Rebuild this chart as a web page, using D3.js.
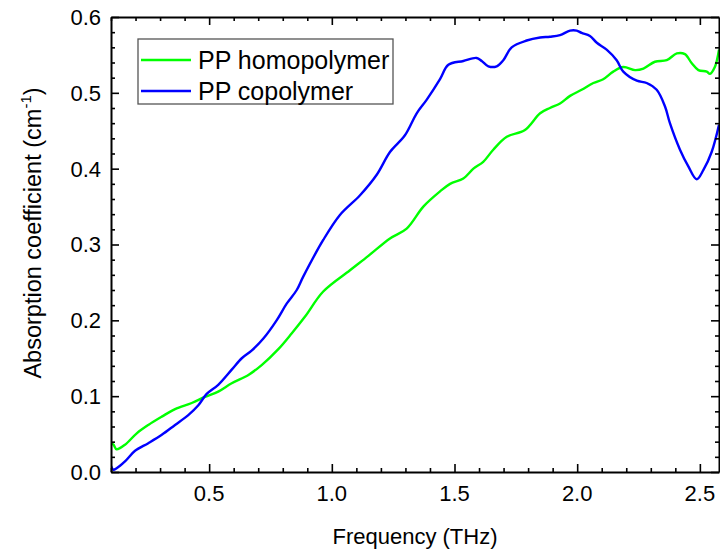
<!DOCTYPE html>
<html lang="en">
<head>
<meta charset="utf-8">
<title>PP absorption</title>
<script src="https://d3js.org/d3.v7.min.js"></script>
<style>
  body { margin: 0; background: #fff; }
  text { font-family: "Liberation Sans", Arial, sans-serif; fill: #000; }
</style>
</head>
<body>
<script>

var width = 720,
    height = 551;

// PP homopolymer (green)
var homoFreq = [0.100, 0.110, 0.123, 0.157, 0.205, 0.252, 0.307, 0.361, 0.429, 0.483, 0.537, 0.592,
  0.660, 0.714, 0.782, 0.837, 0.891, 0.965, 1.074, 1.149, 1.237, 1.305, 1.373, 1.441, 1.482, 1.536,
  1.577, 1.617, 1.658, 1.713, 1.787, 1.849, 1.889, 1.930, 1.971, 2.018, 2.066, 2.106, 2.147, 2.188,
  2.236, 2.270, 2.317, 2.365, 2.406, 2.439, 2.467, 2.494, 2.528, 2.541, 2.561, 2.578];
var homoVal = [0.038, 0.036, 0.030, 0.036, 0.051, 0.062, 0.073, 0.083, 0.091, 0.099, 0.106, 0.117,
  0.128, 0.141, 0.162, 0.183, 0.205, 0.238, 0.266, 0.285, 0.308, 0.321, 0.350, 0.370, 0.380, 0.387,
  0.400, 0.409, 0.425, 0.442, 0.451, 0.473, 0.480, 0.486, 0.496, 0.504, 0.513, 0.518, 0.528, 0.534,
  0.530, 0.532, 0.541, 0.543, 0.552, 0.551, 0.539, 0.530, 0.528, 0.525, 0.534, 0.557];

// PP copolymer (blue)
var coFreq = [0.100, 0.110, 0.123, 0.157, 0.198, 0.252, 0.307, 0.361, 0.415, 0.456, 0.490, 0.537,
  0.592, 0.633, 0.673, 0.721, 0.775, 0.816, 0.857, 0.884, 0.965, 1.033, 1.115, 1.183, 1.237, 1.298,
  1.346, 1.387, 1.441, 1.475, 1.536, 1.590, 1.611, 1.638, 1.672, 1.699, 1.733, 1.794, 1.849, 1.889,
  1.930, 1.971, 1.998, 2.018, 2.052, 2.080, 2.120, 2.161, 2.188, 2.243, 2.283, 2.324, 2.358, 2.378,
  2.419, 2.453, 2.487, 2.514, 2.548, 2.578];
var coVal = [0.008, 0.003, 0.005, 0.014, 0.028, 0.038, 0.049, 0.062, 0.075, 0.088, 0.103, 0.115,
  0.135, 0.150, 0.160, 0.176, 0.200, 0.222, 0.240, 0.258, 0.306, 0.339, 0.365, 0.392, 0.422, 0.444,
  0.473, 0.491, 0.518, 0.537, 0.542, 0.546, 0.542, 0.535, 0.535, 0.543, 0.560, 0.569, 0.573, 0.574,
  0.576, 0.582, 0.582, 0.579, 0.575, 0.566, 0.557, 0.543, 0.528, 0.516, 0.513, 0.504, 0.482, 0.460,
  0.425, 0.403, 0.386, 0.398, 0.422, 0.458];

var xTicks = [0.5, 1.0, 1.5, 2.0, 2.5];
var yTicks = [0.0, 0.1, 0.2, 0.3, 0.4, 0.5, 0.6];
var seriesNames = ["PP homopolymer", "PP copolymer"];
var seriesColors = ["#00ff00", "#0000ff"];

var pLeft = 111, pRight = 719, pTop = 17, pBottom = 472;

var x = d3.scaleLinear().domain([0.1, 2.578]).range([pLeft, pRight]);
var y = d3.scaleLinear().domain([0, 0.6]).range([pBottom, pTop]);

var svg = d3.select("body").append("svg")
    .attr("width", width)
    .attr("height", height);

svg.append("clipPath").attr("id", "plotclip")
  .append("rect")
    .attr("x", pLeft).attr("y", pTop)
    .attr("width", pRight - pLeft).attr("height", pBottom - pTop);

// curves
var line = d3.line()
    .curve(d3.curveCatmullRom.alpha(0.5))
    .x(function(d) { return x(d[0]); })
    .y(function(d) { return y(d[1]); });

var series = [
  d3.zip(homoFreq, homoVal),
  d3.zip(coFreq, coVal)
];

svg.append("g")
    .attr("clip-path", "url(#plotclip)")
  .selectAll("path")
  .data(series)
  .enter().append("path")
    .attr("d", line)
    .attr("fill", "none")
    .attr("stroke", function(d, i) { return seriesColors[i]; })
    .attr("stroke-width", 2.4)
    .attr("stroke-linejoin", "round");

// axes: ticks point inward, minor ticks without labels
var xMinor = d3.range(0.1, 2.58, 0.1).map(function(v) { return +v.toFixed(2); });
var yMinor = d3.range(0, 0.601, 0.02).map(function(v) { return +v.toFixed(2); });

function tickLen(isMajor) { return isMajor ? 8 : 4; }

var bottomAxis = d3.axisBottom(x).tickValues(xMinor).tickSizeOuter(0).tickFormat("");
var topAxis = d3.axisTop(x).tickValues(xMinor).tickSizeOuter(0).tickFormat("");
var leftAxis = d3.axisLeft(y).tickValues(yMinor).tickSizeOuter(0).tickFormat("");
var rightAxis = d3.axisRight(y).tickValues(yMinor).tickSizeOuter(0).tickFormat("");

var gb = svg.append("g").attr("transform", "translate(0," + pBottom + ")").call(bottomAxis);
var gt = svg.append("g").attr("transform", "translate(0," + pTop + ")").call(topAxis);
var gl = svg.append("g").attr("transform", "translate(" + pLeft + ",0)").call(leftAxis);
var gr = svg.append("g").attr("transform", "translate(" + pRight + ",0)").call(rightAxis);

function isMajorX(v) { return Math.abs(v * 2 - Math.round(v * 2)) < 1e-6; }
function isMajorY(v) { return Math.abs(v * 10 - Math.round(v * 10)) < 1e-6; }

gb.selectAll(".tick line").attr("y2", function(d) { return -tickLen(isMajorX(d)); });
gt.selectAll(".tick line").attr("y2", function(d) { return tickLen(isMajorX(d)); });
gl.selectAll(".tick line").attr("x2", function(d) { return tickLen(isMajorY(d)); });
gr.selectAll(".tick line").attr("x2", function(d) { return -tickLen(isMajorY(d)); });

[gb, gt, gl, gr].forEach(function(g) {
  g.selectAll("line, path").attr("stroke", "#000").attr("stroke-width", 1.6);
  g.select(".domain").attr("stroke-width", 2);
});

// tick labels
svg.append("g").selectAll("text")
  .data(xTicks)
  .enter().append("text")
    .attr("x", function(d) { return x(d); })
    .attr("y", pBottom + 29)
    .attr("text-anchor", "middle")
    .attr("font-size", 22)
    .text(function(d) { return d3.format(".1f")(d); });

svg.append("g").selectAll("text")
  .data(yTicks)
  .enter().append("text")
    .attr("x", pLeft - 10)
    .attr("y", function(d) { return y(d); })
    .attr("dy", "0.36em")
    .attr("text-anchor", "end")
    .attr("font-size", 22)
    .text(function(d) { return d3.format(".1f")(d); });

// axis titles
svg.append("text")
    .attr("x", (pLeft + pRight) / 2)
    .attr("y", 544)
    .attr("text-anchor", "middle")
    .attr("font-size", 22)
    .text("Frequency (THz)");

var yt = svg.append("text")
    .attr("transform", "translate(41,233) rotate(-90)")
    .attr("text-anchor", "middle")
    .attr("font-size", 23.5);
yt.append("tspan").text("Absorption coefficient (cm");
yt.append("tspan").attr("font-size", 15).attr("dy", -10).text("-1");
yt.append("tspan").attr("dy", 10).text(")");

// legend
var legend = svg.append("g").attr("transform", "translate(138,39)");
legend.append("rect")
    .attr("width", 255).attr("height", 65)
    .attr("fill", "#fff")
    .attr("stroke", "#555")
    .attr("stroke-width", 1.3);

var items = legend.selectAll(".item")
  .data(seriesNames)
  .enter().append("g")
    .attr("transform", function(d, i) { return "translate(0," + (21 + i * 31) + ")"; });
items.append("line")
    .attr("x1", 3).attr("x2", 53)
    .attr("stroke", function(d, i) { return seriesColors[i]; })
    .attr("stroke-width", 2.4);
items.append("text")
    .attr("x", 60)
    .attr("dy", "0.36em")
    .attr("font-size", 25)
    .text(function(d) { return d; });

</script>
</body>
</html>
